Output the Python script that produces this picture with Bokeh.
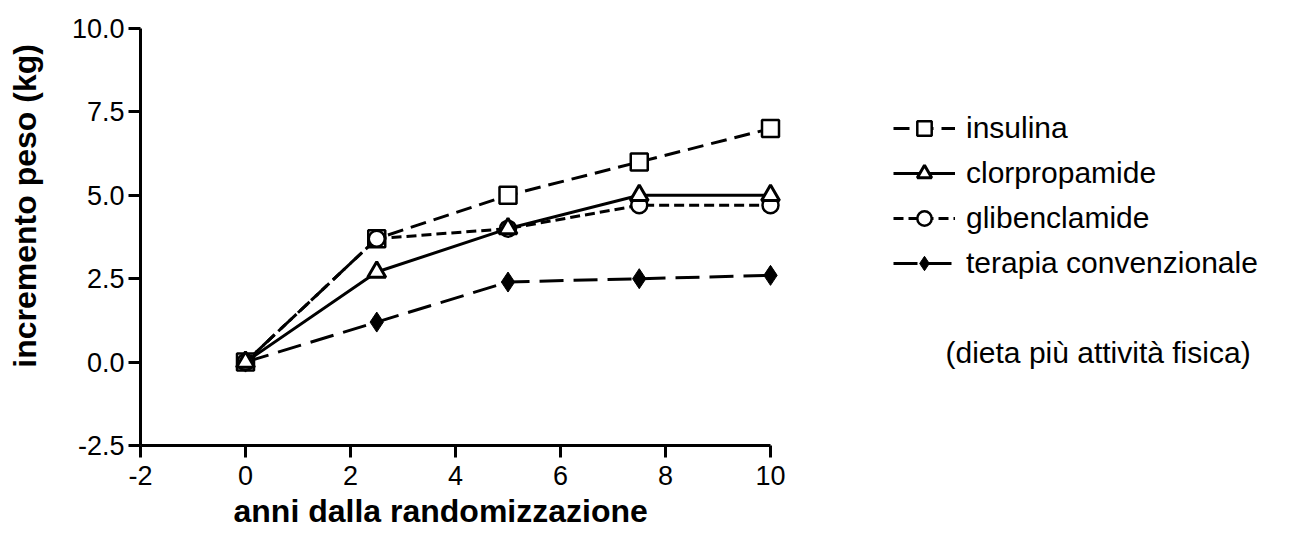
from bokeh.plotting import figure
from bokeh.models import (Range1d, FixedTicker, NumeralTickFormatter, Legend, LegendItem,
                          Label, ColumnDataSource, Title)
from bokeh.embed import file_html
from bokeh.resources import INLINE

# ---- data ----
anni = [0, 2.5, 5, 7.5, 10]
insulina = [0.0, 3.7, 5.0, 6.0, 7.0]
clorpropamide = [0.0, 2.7, 4.0, 5.0, 5.0]
glibenclamide = [0.0, 3.7, 4.0, 4.7, 4.7]
terapia = [0.0, 1.2, 2.4, 2.5, 2.6]

x_ticks = [-2, 0, 2, 4, 6, 8, 10]
y_ticks = [-2.5, 0.0, 2.5, 5.0, 7.5, 10.0]

FONT = "Liberation Sans"
NB = "\u00a0"

# frame spans the full width to the right so the legend (inside the frame) is not clipped;
# the x axis itself is bounded to -2..10 (52.5 px per unit)
X_END = -2 + 1160 / 52.5

p = figure(width=1300, height=547, output_backend="svg", toolbar_location=None,
           x_range=Range1d(-2, X_END), y_range=Range1d(-2.5, 10),
           min_border_left=140, min_border_right=0, min_border_top=28, min_border_bottom=102)
p.outline_line_color = None
p.grid.visible = False
p.background_fill_color = "white"
p.border_fill_color = "white"

for ax in (p.xaxis[0], p.yaxis[0]):
    ax.axis_line_width = 3
    ax.axis_line_color = "black"
    ax.major_tick_line_width = 3
    ax.major_tick_line_color = "black"
    ax.major_tick_out = 12
    ax.major_tick_in = 0
    ax.minor_tick_line_color = None
    ax.major_label_text_font = FONT
    ax.major_label_text_font_size = "27px"
    ax.major_label_text_color = "black"
    ax.axis_label_text_font = FONT
    ax.axis_label_text_font_size = "32px"
    ax.axis_label_text_font_style = "bold"
    ax.axis_label_text_color = "black"

p.xaxis[0].bounds = (-2, 10)
p.xaxis[0].ticker = FixedTicker(ticks=x_ticks)
p.yaxis[0].ticker = FixedTicker(ticks=y_ticks)
p.xaxis[0].formatter = NumeralTickFormatter(format="0")
p.yaxis[0].formatter = NumeralTickFormatter(format="0.0")
p.yaxis[0].axis_label = NB * 7 + "incremento peso (kg)"
p.xaxis[0].major_label_standoff = 8
p.yaxis[0].major_label_standoff = 4
p.yaxis[0].axis_label_standoff = 26

# x-axis title placed under the bounded axis (not centred on the wide frame)
xtitle = Title(text="anni dalla randomizzazione", align="left", offset=93,
               text_font=FONT, text_font_size="32px", text_font_style="bold",
               text_color="black", standoff=6)
p.add_layout(xtitle, "below")

src = ColumnDataSource(dict(x=anni, ins=insulina, clo=clorpropamide, gli=glibenclamide, ter=terapia))

l_ter = p.line("x", "ter", source=src, line_width=3, line_color="black", line_dash="24 10")
s_ter = p.scatter("x", "ter", source=src, marker="diamond", size=20,
                  fill_color="black", line_color="black", line_width=1)

l_ins = p.line("x", "ins", source=src, line_width=3, line_color="black", line_dash="16 8")
s_ins = p.scatter("x", "ins", source=src, marker="square", size=17, fill_color="white",
                  line_color="black", line_width=2.5)

l_gli = p.line("x", "gli", source=src, line_width=3, line_color="black", line_dash="10 5")
s_gli = p.scatter("x", "gli", source=src, marker="circle", size=16, fill_color="white",
                  line_color="black", line_width=2.5)

l_clo = p.line("x", "clo", source=src, line_width=3, line_color="black")
s_clo = p.scatter("x", "clo", source=src, marker="triangle", size=18, fill_color="white",
                  line_color="black", line_width=3)

legend = Legend(items=[
    LegendItem(label="insulina", renderers=[l_ins, s_ins]),
    LegendItem(label="clorpropamide", renderers=[l_clo, s_clo]),
    LegendItem(label="glibenclamide", renderers=[l_gli, s_gli]),
    LegendItem(label="terapia convenzionale", renderers=[l_ter, s_ter]),
], location=(753, 164))
legend.glyph_width = 62
legend.glyph_height = 36
legend.label_height = 36
legend.spacing = 9
legend.padding = 0
legend.margin = 0
legend.label_standoff = 11
legend.label_text_font = FONT
legend.label_text_font_size = "30px"
legend.label_text_color = "black"
legend.border_line_color = None
legend.background_fill_alpha = 0
p.add_layout(legend, "center")

note = Label(x=805, y=93, x_units="screen", y_units="screen",
             text="(dieta più attività fisica)", text_font=FONT, text_font_size="30px",
             text_color="black", text_baseline="middle", text_align="left")
p.add_layout(note)

open("out.html", "w").write(file_html(p, INLINE))
